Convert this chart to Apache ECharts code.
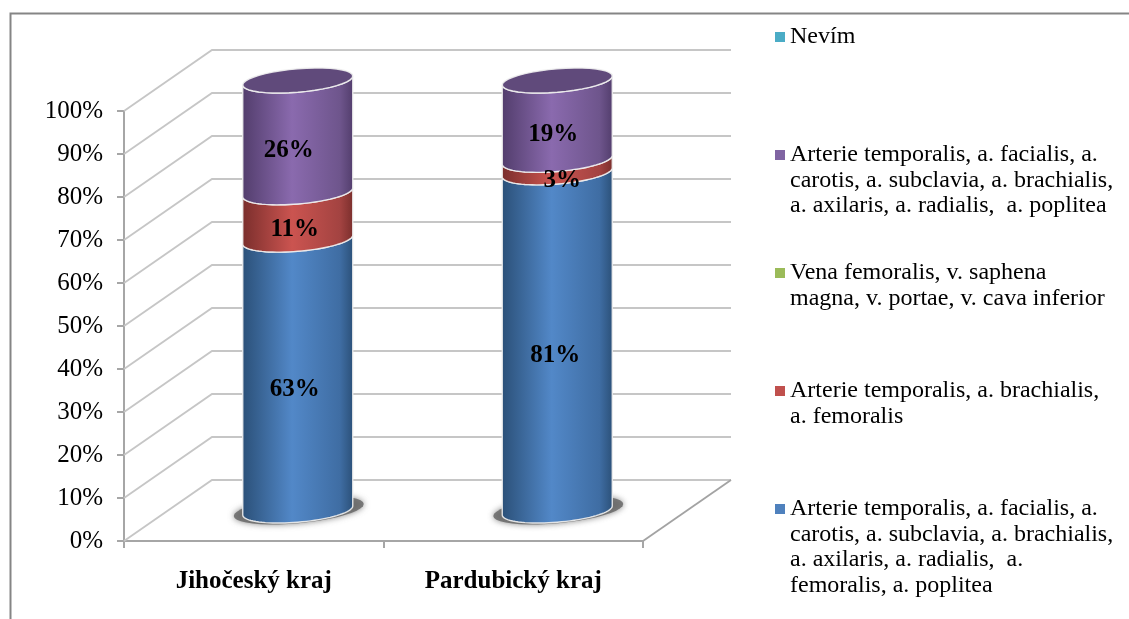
<!DOCTYPE html>
<html><head><meta charset="utf-8">
<style>html,body{margin:0;padding:0;background:#fff}#c{width:1129px;height:619px}</style>
<script src="https://cdn.jsdelivr.net/npm/echarts@6/dist/echarts.min.js"></script>
</head><body><div id="c"></div>
<script>
const categories = ['Jihočeský kraj', 'Pardubický kraj'];
const yTicks = [0,10,20,30,40,50,60,70,80,90,100];
const arterieFull = [63, 81];
const arterieFemoralis = [11, 3];
const vena = [0, 0];
const arterieBez = [26, 19];
const nevim = [0, 0];
const nameFull = 'Arterie temporalis, a. facialis, a.\ncarotis, a. subclavia, a. brachialis,\na. axilaris, a. radialis,  a.\nfemoralis, a. poplitea';
const nameFem = 'Arterie temporalis, a. brachialis,\na. femoralis';
const nameVena = 'Vena femoralis, v. saphena\nmagna, v. portae, v. cava inferior';
const nameBez = 'Arterie temporalis, a. facialis, a.\ncarotis, a. subclavia, a. brachialis,\na. axilaris, a. radialis,  a. poplitea';
const nameNevim = 'Nevím';

const FONT = '"Liberation Serif","Times New Roman",serif';
const DX = 88, DY = -61, A = 55, TILT = 4.5, B = 11.7;
const stackDefs = [
  {name:nameFull, values:arterieFull, color:'#4f81bd', edge:'#2b5078', mid:'#5288c8', shade:'#3f6da3', legendTop:508, nudge:[-3,-2]},
  {name:nameFem, values:arterieFemoralis, color:'#c0504d', edge:'#7a2e2c', mid:'#cb5450', shade:'#a34341', legendTop:390, nudge:[-3,5]},
  {name:nameVena, values:vena, color:'#9bbb59', edge:'#5f7536', mid:'#9bbb59', shade:'#7f9a49', legendTop:272, nudge:[0,0]},
  {name:nameBez, values:arterieBez, color:'#8064a2', edge:'#523d6c', mid:'#8a6aae', shade:'#6e558c', legendTop:154, nudge:[-9,-4]},
  {name:nameNevim, values:nevim, color:'#4bacc6', edge:'#2c7386', mid:'#4bacc6', shade:'#3d90a6', legendTop:36, nudge:[0,0]}
];
const totals = categories.map((_, i) => stackDefs.reduce((s, d) => s + d.values[i], 0));
function startOf(si, ci){
  let s = 0;
  for (let k = 0; k < si; k++) s += stackDefs[k].values[ci];
  return s / totals[ci] * 100;
}
function lastNonZero(ci){
  let l = 0;
  stackDefs.forEach((d, k) => { if (d.values[ci] > 0) l = k; });
  return l;
}
function arc(cx, cy, from, to, a, b, tilt){
  a = a || A; b = b || B; tilt = tilt === undefined ? TILT : tilt;
  const pts = [], n = 40;
  for (let i = 0; i <= n; i++){
    const t = from + (to - from) * i / n;
    pts.push([cx + a * Math.cos(t), cy - tilt * Math.cos(t) + b * Math.sin(t)]);
  }
  return pts;
}
function grad(d){
  return {type:'linear',x:0,y:0,x2:1,y2:0,colorStops:[
    {offset:0,color:d.edge},{offset:0.45,color:d.mid},
    {offset:0.88,color:d.shade},{offset:1,color:d.edge}]};
}
function segmentSeries(d, si){
  return {
    type:'custom', name:d.name, z:3 + si, clip:false,
    itemStyle:{color:d.color},
    encode:{x:0,y:1},
    data:d.values.map((v, ci) => [ci, v]),
    renderItem(params, api){
      const ci = api.value(0), v = api.value(1);
      if (!v) return {type:'group',children:[]};
      const s0 = startOf(si, ci), s1 = s0 + v / totals[ci] * 100;
      const p0 = api.coord([ci, s0]), p1 = api.coord([ci, s1]);
      const cx = p0[0] + DX / 2, y0 = p0[1] + DY / 2, y1 = p1[1] + DY / 2;
      const children = [];
      if (s0 === 0) {
        children.push({type:'polygon',shape:{points:arc(cx + 1, y0 - 0.5, 0, 2 * Math.PI, A + 10, B + 1.5, 6)},
          style:{fill:'rgba(105,105,105,0.85)',shadowBlur:6,shadowColor:'rgba(90,90,90,0.85)'}});
      }
      const up = arc(cx, y1, Math.PI, 0), low = arc(cx, y0, 0, Math.PI);
      children.push({type:'polygon',shape:{points:up.concat(low)},
        style:{fill:grad(d),stroke:'rgba(240,240,240,0.9)',lineWidth:1.4}});
      if (si === lastNonZero(ci)) {
        const top = arc(cx, y1, 0, 2 * Math.PI);
        children.push({type:'polygon',shape:{points:top},
          style:{fill:'#604a7b',stroke:'rgba(240,240,240,0.9)',lineWidth:1.4}});
      }
      return {type:'group',children};
    }
  };
}
function labelSeries(d, si){
  return {
    type:'custom', name:'popisky ' + si, z:30, clip:false, silent:true,
    encode:{x:0,y:1},
    data:d.values.map((v, ci) => [ci, v]),
    renderItem(params, api){
      const ci = api.value(0), v = api.value(1);
      if (!v) return {type:'group',children:[]};
      const s0 = startOf(si, ci), s1 = s0 + v / totals[ci] * 100;
      const p = api.coord([ci, (s0 + s1) / 2]);
      return {type:'text',style:{text:v + '%',x:p[0] + DX / 2 + d.nudge[ci],y:p[1] + DY / 2 + 14,
        align:'center',verticalAlign:'middle',fill:'#000',font:'bold 25px ' + FONT}};
    }
  };
}
const wallSeries = {
  type:'custom', name:'mřížka', z:1, clip:false, silent:true,
  encode:{y:0},
  data:yTicks.map(t => [t]),
  renderItem(params, api){
    const cs = params.coordSys, y = api.coord([0, api.value(0)])[1];
    const L = cs.x, R = cs.x + cs.width;
    const children = [{type:'polyline',shape:{points:[[L,y],[L + DX,y + DY],[R + DX,y + DY]]},
      style:{fill:null,stroke:'#c6c6c6',lineWidth:1.8}}];
    if (api.value(0) === 0) children.push({type:'line',shape:{x1:R,y1:y,x2:R + DX,y2:y + DY},
      style:{stroke:'#a3a3a3',lineWidth:1.8}});
    return {type:'group',children};
  }
};
const LH = 25.5;
const legends = stackDefs.map(d => {
  const lines = d.name.split('\n').length, h = lines * LH;
  const sqTop = (LH - 10) / 2;
  return {
    data:[{name:d.name, icon:`path://M0 ${sqTop}H10V${sqTop + 10}H0Z M0 0L0 0 M0 ${h}L0 ${h}`}],
    selectedMode:false, orient:'vertical', left:775, top:d.legendTop - LH / 2 + 1, padding:0,
    itemWidth:10, itemHeight:h,
    textStyle:{fontFamily:FONT,fontSize:24,lineHeight:LH,color:'#000'}
  };
});
const chart = echarts.init(document.getElementById('c'));
chart.setOption({
  backgroundColor:'#fff', animation:false,
  grid:{left:124,top:111,width:519,height:430,containLabel:false},
  xAxis:{type:'category',data:categories,
    axisLine:{lineStyle:{color:'#a6a6a6',width:2}},
    axisTick:{show:true,length:7,lineStyle:{color:'#a6a6a6',width:2}},
    axisLabel:{fontFamily:FONT,fontWeight:'bold',fontSize:25,color:'#000',margin:28}},
  yAxis:{type:'value',min:0,max:100,interval:10,
    splitLine:{show:false},
    axisLine:{show:true,lineStyle:{color:'#a6a6a6',width:2}},
    axisTick:{show:true,length:7,lineStyle:{color:'#a6a6a6',width:2}},
    axisLabel:{formatter:'{value}%',fontFamily:FONT,fontSize:25,color:'#000',margin:21}},
  legend:legends,
  graphic:[{type:'polyline',z:0,shape:{points:[[10.5,619],[10.5,13.5],[1129,13.5]]},
    style:{fill:null,stroke:'#858585',lineWidth:2}}],
  series:[wallSeries].concat(stackDefs.map(segmentSeries), stackDefs.map(labelSeries))
});
</script></body></html>
